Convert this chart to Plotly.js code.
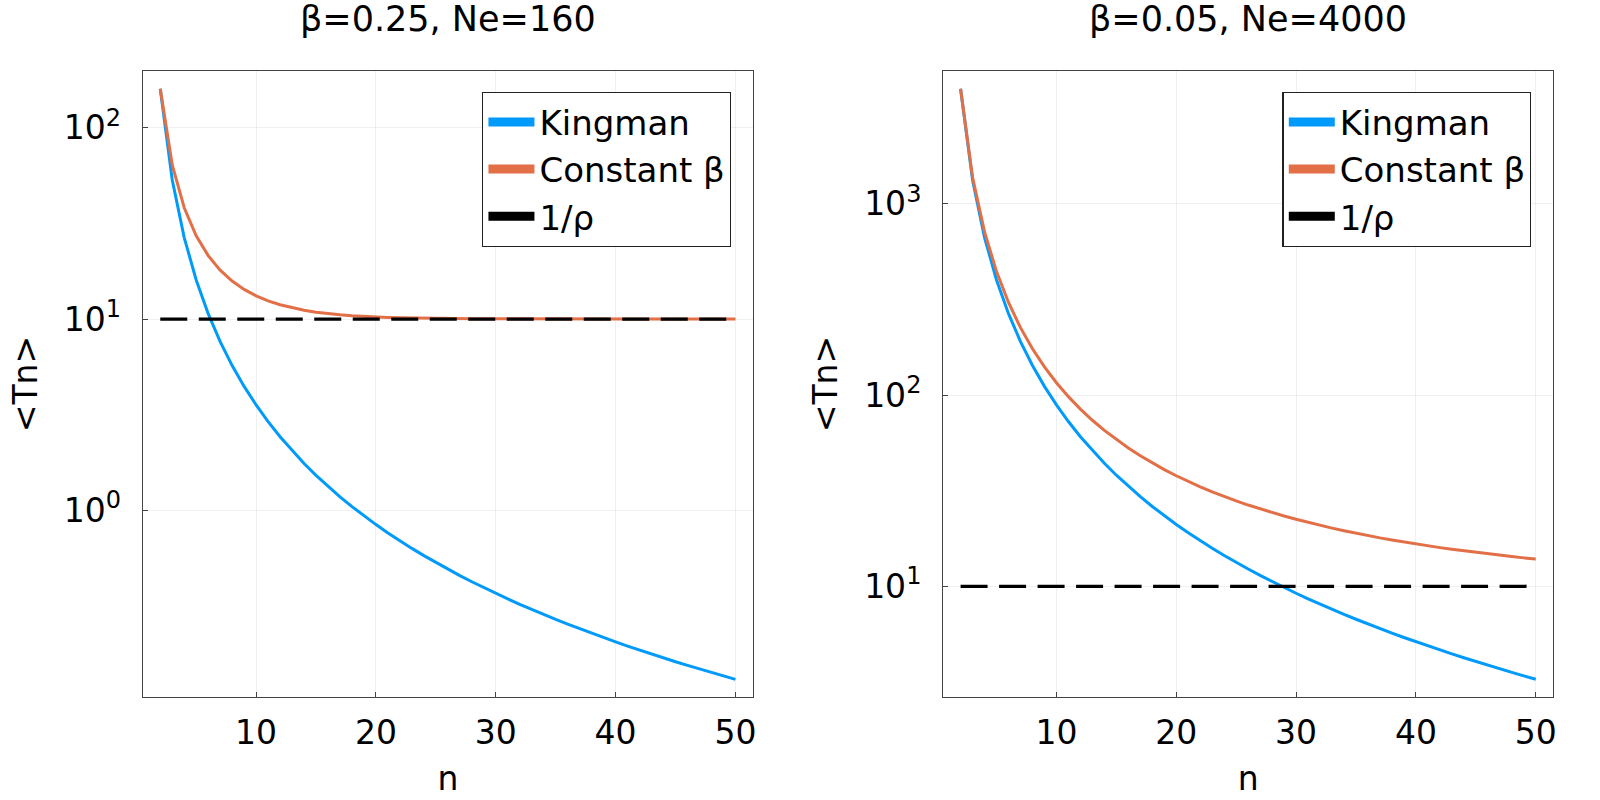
<!DOCTYPE html>
<html>
<head>
<meta charset="utf-8">
<script src="https://cdn.plot.ly/plotly-3.0.1.min.js"></script>
<style>
  html, body { margin: 0; padding: 0; background: #fff; }
  #chart { width: 1600px; height: 800px; }
</style>
</head>
<body>
<div id="chart"></div>
<script>
const n = [2, 3, 4, 5, 6, 7, 8, 9, 10, 11, 12, 13, 14, 15, 16, 17, 18, 19, 20, 21, 22, 23, 24, 25, 26,
  27, 28, 29, 30, 31, 32, 33, 34, 35, 36, 37, 38, 39, 40, 41, 42, 43, 44, 45, 46, 47, 48, 49, 50];

// β=0.25, Ne=160
const kingmanLeft = [160, 53.33, 26.67, 16, 10.67, 7.619, 5.714, 4.444, 3.556, 2.909, 2.424, 2.051,
  1.758, 1.524, 1.333, 1.176, 1.046, 0.9357, 0.8421, 0.7619, 0.6926, 0.6324, 0.5797, 0.5333, 0.4923,
  0.4558, 0.4233, 0.3941, 0.3678, 0.3441, 0.3226, 0.3030, 0.2852, 0.2689, 0.2540, 0.2402, 0.2276,
  0.2159, 0.2051, 0.1951, 0.1858, 0.1772, 0.1691, 0.1616, 0.1546, 0.1480, 0.1418, 0.1361, 0.1306];
const constantLeft = [160, 64, 38.21, 27.23, 21.46, 18.02, 15.80, 14.29, 13.23, 12.45, 11.88, 11.45,
  11.12, 10.87, 10.68, 10.53, 10.41, 10.32, 10.25, 10.19, 10.15, 10.12, 10.09, 10.07, 10.05, 10.04,
  10.03, 10.03, 10.02, 10.02, 10.01, 10.01, 10.01, 10.01, 10.0, 10.0, 10.0, 10.0, 10.0, 10.0, 10.0,
  10.0, 10.0, 10.0, 10.0, 10.0, 10.0, 10.0, 10.0];

// β=0.05, Ne=4000
const kingmanRight = [4000, 1333.3, 666.7, 400, 266.7, 190.5, 142.9, 111.1, 88.89, 72.73, 60.61,
  51.28, 43.96, 38.10, 33.33, 29.41, 26.14, 23.39, 21.05, 19.05, 17.32, 15.81, 14.49, 13.33, 12.31,
  11.40, 10.58, 9.852, 9.195, 8.602, 8.065, 7.576, 7.130, 6.723, 6.349, 6.006, 5.690, 5.398, 5.128,
  4.878, 4.646, 4.430, 4.228, 4.040, 3.865, 3.700, 3.546, 3.401, 3.265];
const constantRight = [4000, 1379, 713.3, 442.6, 305.1, 225.3, 174.7, 140.4, 116.1, 98.14, 84.49,
  73.84, 65.37, 58.50, 52.84, 48.13, 44.15, 40.77, 37.86, 35.33, 33.13, 31.19, 29.48, 27.96, 26.60,
  25.39, 24.29, 23.30, 22.40, 21.58, 20.83, 20.15, 19.52, 18.94, 18.41, 17.91, 17.46, 17.03, 16.64,
  16.27, 15.93, 15.61, 15.32, 15.04, 14.78, 14.53, 14.30, 14.08, 13.88];

const inverseRho = [10, 10, 10, 10, 10, 10, 10, 10, 10, 10, 10, 10, 10, 10, 10, 10, 10, 10, 10, 10,
  10, 10, 10, 10, 10, 10, 10, 10, 10, 10, 10, 10, 10, 10, 10, 10, 10, 10, 10, 10, 10, 10, 10, 10, 10,
  10, 10, 10, 10];

const titles = ['β=0.25, Ne=160', 'β=0.05, Ne=4000'];
const seriesNames = ['Kingman', 'Constant β', '1/ρ'];
const xTicks = [10, 20, 30, 40, 50];
const yTicksLeft = [1, 10, 100];
const yTicksRight = [10, 100, 1000];
const yExpLeft = ['0', '1', '2'];
const yExpRight = ['1', '2', '3'];

const BLUE = '#009AFA';
const ORANGE = '#E26F46';
const FONT = 'DejaVu Sans';

// 10 with a superscript exponent, sized like the reference
const powerLabel = (e) => '10<sup><span style="font-size:24px">' + e + '</span></sup>';

// plot area in page pixels: x 143.3..1552.7, y 70.7..697
const toPaperX = (px) => (px - 143.3) / 1409.4;
const toPaperY = (py) => (697 - py) / 626.3;

function panel(xa, ya, legendId, kingman, constant) {
  const common = { x: n, mode: 'lines', type: 'scatter', xaxis: xa, yaxis: ya, showlegend: false, hoverinfo: 'skip' };
  const lines = [
    { ...common, y: kingman, line: { color: BLUE, width: 3 } },
    { ...common, y: constant, line: { color: ORANGE, width: 3 } },
    { ...common, y: inverseRho, line: { color: '#000000', width: 3.3, dash: '27px,11.5px' } }
  ];
  // thick solid legend swatches, as in the reference
  const colors = [BLUE, ORANGE, '#000000'];
  const keys = seriesNames.map((name, i) => ({
    x: [null], y: [null], mode: 'lines', type: 'scatter', xaxis: xa, yaxis: ya,
    name, legend: legendId, line: { color: colors[i], width: 9 }
  }));
  return [...lines, ...keys];
}

const data = [
  ...panel('x', 'y', 'legend', kingmanLeft, constantLeft),
  ...panel('x2', 'y2', 'legend2', kingmanRight, constantRight)
];

const axisBase = {
  showline: true, mirror: true, linecolor: '#444', linewidth: 1.3,
  ticks: 'inside', ticklen: 5, tickcolor: '#444', tickwidth: 1,
  showgrid: true, gridcolor: 'rgba(0,0,0,0.06)', gridwidth: 1,
  zeroline: false, tickfont: { family: FONT, size: 33, color: '#000' }
};

const xAxis = (domain) => ({
  ...axisBase, domain, range: [0.56, 51.44], tickmode: 'array', tickvals: xTicks,
  ticklabelstandoff: 6,
  title: { text: 'n', font: { family: FONT, size: 33, color: '#000' }, standoff: 16 }
});

const yAxis = (range, vals, exps, anchor) => ({
  ...axisBase, type: 'log', range, tickmode: 'array', tickvals: vals, ticktext: exps.map(powerLabel),
  anchor, ticklabelstandoff: 14,
  title: { text: '&lt;Tn&gt;', font: { family: FONT, size: 33, color: '#000' }, standoff: 16 }
});

const legendBase = {
  xref: 'paper', yref: 'paper', xanchor: 'left', yanchor: 'top',
  bgcolor: '#ffffff', bordercolor: '#222', borderwidth: 1.3,
  font: { family: FONT, size: 34, color: '#000' }, itemwidth: 46
};

const layout = {
  width: 1600, height: 800,
  margin: { l: 143.3, r: 47.3, t: 70.7, b: 103, pad: 0 },
  paper_bgcolor: '#ffffff', plot_bgcolor: '#ffffff',
  font: { family: FONT, color: '#000' },
  xaxis: xAxis([0, 0.4324]),
  xaxis2: { ...xAxis([0.5676, 1]), anchor: 'y2' },
  yaxis: yAxis([-0.976, 2.297], yTicksLeft, yExpLeft, 'x'),
  yaxis2: yAxis([0.421, 3.695], yTicksRight, yExpRight, 'x2'),
  legend: { ...legendBase, x: toPaperX(482.3), y: toPaperY(91.7) },
  legend2: { ...legendBase, x: toPaperX(1282.3), y: toPaperY(91.7) },
  annotations: titles.map((text, i) => ({
    text, xref: 'paper', yref: 'paper', x: toPaperX(448 + 800 * i), y: toPaperY(19),
    xanchor: 'center', yanchor: 'middle', showarrow: false,
    font: { family: FONT, size: 35, color: '#000' }
  }))
};

Plotly.newPlot('chart', data, layout, { displayModeBar: false, staticPlot: true });
</script>
</body>
</html>
